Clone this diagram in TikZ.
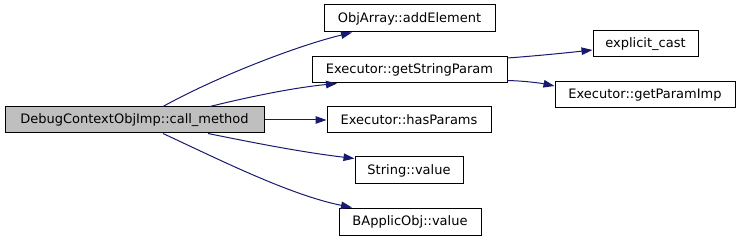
\documentclass[tikz,border=0pt]{standalone}
\usepackage{fontspec}
\setmainfont{DejaVu Sans}
\usetikzlibrary{arrows.meta}
\definecolor{edgeblue}{HTML}{191970}
\definecolor{mainfill}{HTML}{BFBFBF}
\begin{document}
\begin{tikzpicture}[x=1pt,y=-1pt,
  fn/.style={draw=black,line width=1pt,fill=white,inner sep=0pt,
    font=\fontsize{13}{15}\selectfont,text=black,anchor=center},
  call/.style={draw=edgeblue,line width=1pt,
    -{Triangle[length=11pt,width=7.5pt,fill=edgeblue]}}]
\useasboundingbox (0,0) rectangle (741,240);
\node[fn,fill=mainfill,minimum width=259pt,minimum height=26pt] (main) at (134.5,120) {DebugContextObjImp::call\_method};
\node[fn,minimum width=171pt,minimum height=27pt] (objarr) at (409.5,18.5) {ObjArray::addElement};
\node[fn,minimum width=195pt,minimum height=26pt] (gsp) at (409.5,70) {Executor::getStringParam};
\node[fn,minimum width=164pt,minimum height=26pt] (hasp) at (409,120) {Executor::hasParams};
\node[fn,minimum width=108pt,minimum height=27pt] (strv) at (409,170.5) {String::value};
\node[fn,minimum width=142pt,minimum height=27pt] (bapp) at (410,221.5) {BApplicObj::value};
\node[fn,minimum width=105pt,minimum height=26pt] (expl) at (645.5,44) {explicit\_cast};
\node[fn,minimum width=180pt,minimum height=26pt] (gpi) at (645,95) {Executor::getParamImp};

\draw[call] ([xshift=28.5pt]main.north) .. controls (220,75) and (300,45) .. ([xshift=-57.5pt]objarr.south);
\draw[call] ([xshift=75.5pt]main.north) .. controls (240,99) and (290,88) .. ([xshift=-72.5pt]gsp.south);
\draw[call] (main.east) -- (hasp.west);
\draw[call] ([xshift=73.5pt]main.south) .. controls (250,142) and (300,152) .. ([yshift=-2pt]strv.north west);
\draw[call] ([xshift=28.5pt]main.south) .. controls (220,160) and (290,195) .. ([xshift=-58pt]bapp.north);
\draw[call] ([yshift=-1.5pt]gsp.north east) .. controls (535,56) and (565,53) .. ([yshift=-6pt]expl.west);
\draw[call] ([yshift=3pt]gsp.south east) .. controls (525,81) and (540,83) .. ([yshift=9pt]gpi.west);
\end{tikzpicture}
\end{document}
